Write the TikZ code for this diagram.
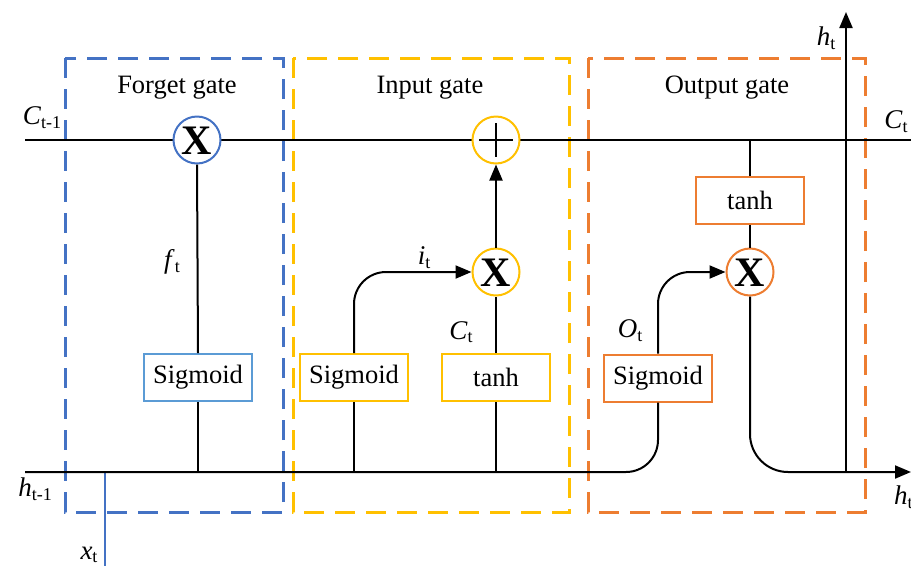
\documentclass[tikz,border=0pt]{standalone}
\usepackage{fontspec}
\setmainfont{Liberation Serif}
\usetikzlibrary{arrows.meta,calc}
\definecolor{cblue}{HTML}{4472C4}
\definecolor{clblue}{HTML}{5B9BD5}
\definecolor{cyel}{HTML}{FFC000}
\definecolor{corg}{HTML}{ED7D31}
\newcommand{\varlbl}[2]{\textit{#1}\raisebox{-0.3ex}{\fontsize{18}{18}\selectfont #2}}
\tikzset{
  gatebox/.style={draw, line width=3pt, dash pattern=on 20pt off 11pt},
  fnbox/.style={draw, line width=2pt, minimum width=108pt, minimum height=47pt, inner sep=0pt, fill=white, font=\fontsize{26.5}{30}\selectfont},
  opcirc/.style={draw, circle, line width=2pt, minimum size=47pt, inner sep=0pt, fill=white},
  wire/.style={line width=2pt, black},
  tip/.style={-{Triangle[length=16pt,width=13pt]}},
  title/.style={font=\fontsize{26.5}{30}\selectfont},
  lab/.style={font=\fontsize{27}{30}\selectfont, inner sep=0pt},
  xmark/.style={font=\fontsize{42}{42}\selectfont\bfseries}
}
\begin{document}
\begin{tikzpicture}[x=1pt,y=-1pt]
\useasboundingbox (0,0) rectangle (911,566);
% gate boxes
\draw[gatebox, cblue] (65,58) rectangle (283,512);
\draw[gatebox, cyel] (293,58) rectangle (569,512);
\draw[gatebox, corg] (588,58) rectangle (865,512);
\node[title] (tf) at (177,88) {Forget gate};
\node[title] (ti) at (430,88) {Input gate};
\node[title] (to) at (727,88) {Output gate};
% coordinates
\coordinate (cl) at (25,140);
\coordinate (cr) at (911,140);
\coordinate (hl) at (25,472);
\coordinate (hr) at (911,472);
\coordinate (hup) at (846,472);
\coordinate (htop) at (846,12);
\coordinate (xb) at (105,566);
\coordinate (xtop) at (105,472);
% cell line
\draw[wire] (cl) -- (cr);
% x_t
\draw[line width=2pt, cblue] (xtop) -- (xb);
% nodes
\node[opcirc, draw=cblue] (fX) at (197,140) {};
\node[xmark] (fXm) at (197,141) {X};
\node[fnbox, draw=clblue] (fsig) at (198,377.5) {Sigmoid};
\node[opcirc, draw=cyel] (iP) at (496,140) {};
\node[opcirc, draw=cyel] (iX) at (496,272) {};
\node[xmark] (iXm) at (496,273) {X};
\node[fnbox, draw=cyel] (isig) at (354,377.5) {Sigmoid};
\node[fnbox, draw=cyel] (itanh) at (496,377.5) {tanh};
\node[fnbox, draw=corg] (otanh) at (750,200) {tanh};
\node[opcirc, draw=corg] (oX) at (750,272) {};
\node[xmark] (oXm) at (750,273) {X};
\node[fnbox, draw=corg] (osig) at (658,378) {Sigmoid};
% plus sign
\draw[line width=2.4pt] ($(iP.center)+(-17,0)$) -- ($(iP.center)+(17,0)$);
\draw[line width=2.4pt] ($(iP.center)+(0,-17)$) -- ($(iP.center)+(0,17)$);
% forget wiring
\draw[wire] (fsig.south |- hl) -- (fsig.south);
\draw[wire] (fsig.north) -- (fX.south);
% input wiring
\draw[wire] (isig.south |- hl) -- (isig.south);
\draw[wire] (itanh.south |- hl) -- (itanh.south);
\draw[wire] (itanh.north) -- (iX.south);
\draw[wire, tip] (iX.north) -- (iP.south);
\draw[wire, tip, rounded corners=32pt] (isig.north) |- (iX.west);
% h line and output
\draw[wire, rounded corners=32pt] (hl) -| (osig.south);
\draw[wire, tip, rounded corners=32pt] (osig.north) |- (oX.west);
\draw[wire] (otanh.north |- cl) -- (otanh.north);
\draw[wire] (otanh.south) -- (oX.north);
\draw[wire, tip, rounded corners=38pt] (oX.south) |- (hr);
\draw[wire, tip] (hup) -- (htop);
% labels
\node[lab] (lct1) at (42,118) {\varlbl{C}{t-1}};
\node[lab] (lht1) at (35,489) {\varlbl{h}{t-1}};
\node[lab] (lxt) at (89,555) {\varlbl{x}{t}};
\node[lab] (lft) at (172,262) {\varlbl{f}{t}};
\node[lab] (lit) at (424,258) {\varlbl{i}{t}};
\node[lab] (lctil) at (461,332) {\varlbl{C}{t}};
\node[lab] (lot) at (630,331) {\varlbl{O}{t}};
\node[lab] (lht) at (826,38) {\varlbl{h}{t}};
\node[lab] (lct) at (896,122) {\varlbl{C}{t}};
\node[lab, anchor=west] (lhtr) at (894,497) {\varlbl{h}{t}};
\end{tikzpicture}
\end{document}
